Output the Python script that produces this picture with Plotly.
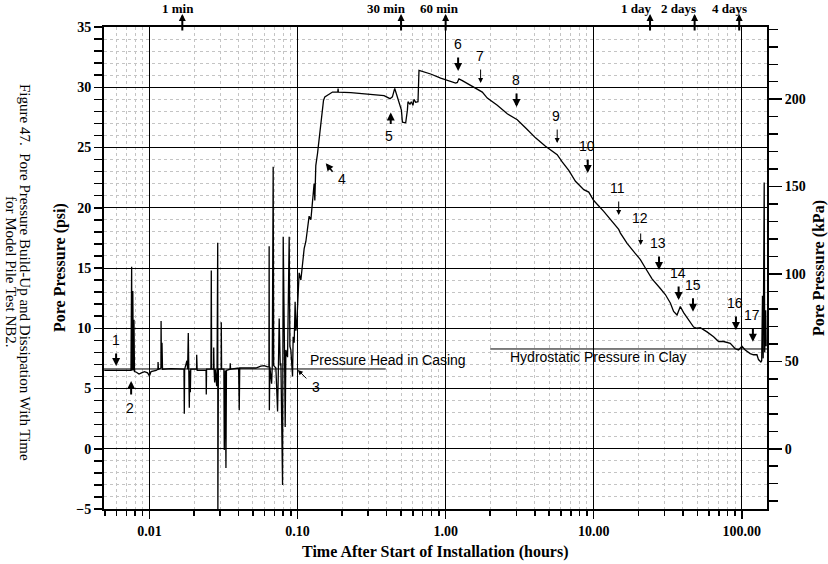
import math
import plotly.graph_objects as go

# ---------------- data (time in hours, pressure in psi) ----------------
time_h = [
    0.00495, 0.0060, 0.0070, 0.00750, 0.00758, 0.00762, 0.00772, 0.00778, 0.00786, 0.00792,
    0.00817, 0.00850, 0.00883, 0.00926, 0.00971, 0.01000, 0.01025, 0.0111, 0.01140, 0.01143,
    0.01150, 0.01195, 0.01198, 0.01205, 0.01215, 0.01225, 0.0140, 0.0163, 0.0171, 0.01719,
    0.01728, 0.0179, 0.0181, 0.01829, 0.01840, 0.01858, 0.01870, 0.01888, 0.01900, 0.0208,
    0.02084, 0.0210, 0.0223, 0.0241, 0.02419, 0.0243, 0.0260, 0.02615, 0.0263, 0.0271,
    0.02716, 0.02730, 0.02756, 0.0278, 0.02844, 0.0286, 0.0289, 0.02897, 0.0292, 0.0305,
    0.03054, 0.0307, 0.0318, 0.0320, 0.0325, 0.03284, 0.0331, 0.0350, 0.03512, 0.0353,
    0.0400, 0.04038, 0.0407, 0.0448, 0.0523, 0.0565, 0.0595, 0.0628, 0.0641, 0.0643,
    0.0645, 0.0650, 0.0668, 0.0675, 0.06846, 0.0690, 0.0714, 0.0733, 0.0743, 0.07516,
    0.0764, 0.0772, 0.0792, 0.0800, 0.0818, 0.0825, 0.0834, 0.0856, 0.0878, 0.0888,
    0.0901, 0.0925, 0.0934, 0.0949, 0.0963, 0.0974, 0.0989, 0.1025, 0.1053, 0.1108,
    0.1138, 0.1197, 0.1230, 0.1294, 0.1308, 0.1328, 0.1364, 0.1398, 0.1451, 0.1497,
    0.1528, 0.1633, 0.1722, 0.1870, 0.1878, 0.1886, 0.2288, 0.2965, 0.3837, 0.421,
    0.437, 0.453, 0.4724, 0.4843, 0.5027, 0.5105, 0.5373, 0.5517, 0.5568, 0.5744,
    0.5870, 0.6016, 0.6110, 0.6277, 0.6505, 0.6607, 0.7075, 0.7922, 0.9254, 1.0,
    1.081, 1.168, 1.199, 1.229, 1.296, 1.400, 1.514, 1.636, 1.768, 1.911,
    2.232, 2.607, 3.045, 3.556, 4.045, 4.724, 5.243, 5.665, 6.122, 6.783,
    7.525, 8.563, 9.254, 10.0, 11.68, 13.64, 14.74, 15.14, 16.80, 19.11,
    20.65, 22.32, 24.76, 28.17, 30.44, 32.90, 34.63, 36.51, 38.42, 40.45,
    43.72, 47.25, 49.82, 52.43, 58.18, 64.46, 69.66, 75.27, 83.53, 90.28,
    94.99, 100.2, 105.4, 113.9, 119.9, 126.5, 129.6, 134.5, 136.2, 137.9,
    139.4, 141.6, 142.7, 144.9, 146.0,
]
pressure_psi = [
    6.5, 6.5, 6.5, 6.5, 15.1, 6.5, 13.1, 6.5, 10.7, 6.4,
    6.35, 6.2, 6.3, 6.4, 6.3, 6.05, 6.4, 6.5, 6.6, 7.2,
    6.6, 6.7, 10.6, 6.7, 8.8, 6.6, 6.65, 6.6, 6.6, 2.9,
    6.6, 7.3, 6.6, 9.6, 6.5, 3.4, 6.5, 4.7, 6.6, 6.6,
    7.8, 6.5, 6.5, 6.5, 4.5, 6.6, 6.6, 14.8, 6.6, 6.6,
    8.4, 6.6, 5.5, 6.6, 5.2, 6.6, 17.1, -5.5, 6.6, 6.6,
    10.5, 6.6, 6.6, -0.1, 6.5, -1.6, 6.5, 6.6, 7.1, 6.6,
    6.7, 3.2, 6.7, 6.7, 6.7, 6.85, 6.9, 6.8, 6.8, 16.8,
    3.2, 6.8, 5.4, 6.9, 23.4, 6.9, 6.7, 3.1, 7.0, 10.8,
    6.9, 7.1, -3.0, 17.6, 7.2, 1.8, 8.2, 7.6, 17.6, 8.5,
    8.2, 6.0, 9.3, 8.8, 12.2, 9.8, 10.5, 14.6, 14.0, 16.6,
    17.2, 19.3, 19.0, 22.0, 20.6, 23.5, 24.5, 25.6, 27.6, 28.9,
    29.2, 29.4, 29.6, 29.6, 29.9, 29.6, 29.55, 29.4, 29.3, 29.05,
    29.2, 29.9, 29.2, 28.8, 28.1, 27.1, 27.05, 28.1, 28.8, 28.6,
    28.8, 28.5, 29.0, 28.75, 28.8, 31.4, 31.3, 31.1, 30.75, 30.6,
    30.45, 30.35, 30.4, 30.7, 30.55, 30.3, 30.05, 29.8, 29.6, 29.1,
    28.5, 27.8, 27.3, 26.5, 25.8, 25.1, 24.7, 24.4, 23.8, 23.1,
    22.2, 21.5, 21.3, 20.6, 19.7, 18.75, 18.2, 17.9, 17.05, 16.2,
    15.7, 15.0, 14.1, 13.3, 12.8, 12.1, 11.4, 11.1, 11.8, 11.3,
    10.7, 10.1, 10.0, 10.05, 9.7, 9.3, 8.9, 8.9, 8.75, 8.3,
    8.2, 8.5, 8.2, 7.9, 7.8, 7.8, 7.4, 7.2, 7.3, 12.7,
    7.5, 22.1, 8.0, 11.5, 8.5,
]

# reference levels (psi) and their time spans (hours)
casing_head_psi = 6.62
casing_span_h = [0.00493, 0.394]
hydrostatic_psi = 8.28
hydro_span_h = [2.0, 148.0]

# event markers 1..17: arrow head (time h, psi), label (time h, psi)
event_labels = [str(i) for i in range(1, 18)]
event_head_t = [0.005953, 0.00752, 0.1005, 0.1551, 0.4257, 1.214, 1.722, 3.011, 5.665,
                9.11, 14.74, 20.75, 27.6, 37.43, 46.8, 91.25, 118.8]
event_head_p = [6.87, 5.62, 6.54, 23.7, 27.9, 31.35, 30.35, 28.36, 25.37,
                22.88, 19.40, 16.91, 14.83, 12.34, 11.37, 9.85, 8.88]
event_text_t = [0.005953, 0.0074, 0.1328, 0.1989, 0.4127, 1.205, 1.695, 2.965, 5.604,
                9.07, 14.45, 20.65, 27.31, 37.25, 47.0, 90.3, 117.5]
event_text_p = [9.02, 3.38, 5.12, 22.39, 25.95, 33.59, 32.59, 30.60, 27.61,
                25.12, 21.64, 19.15, 17.07, 14.59, 13.59, 12.10, 11.10]

# top time markers
top_marker_t = [1 / 60, 0.5, 1.0, 24.0, 48.0, 96.0]
top_marker_text = ["1 min", "30 min", "60 min", "1 day", "2 days", "4 days"]

x_tick_vals = [0.01, 0.1, 1, 10, 100]
x_tick_text = ["0.01", "0.10", "1.00", "10.00", "100.00"]

caption_lines = ["Figure 47.  Pore Pressure Build-Up and Dissipation With Time",
                 "for Model Pile Test NB2."]

PSI_TO_KPA = 6.89476

# ---------------- styling helpers ----------------
SERIF = "Liberation Serif"
SANS = "Liberation Sans"
W, H = 828, 564
PX_L, PX_R, PX_T, PX_B = 104, 767, 27, 509   # plot area in pixels
PW, PH = PX_R - PX_L, PX_B - PX_T


def px(xs):
    return (xs - PX_L) / PW


def py(ys):
    return (PX_B - ys) / PH


ev_ax = [0, 0, 10, 8, 0, 0, 0, 0, 0, 0, 0, 0, 0, 0, 0, 0, 0]
ev_ay = [-14, 15, 10, 10, 13, -15, -15, -15, -15, -15, -15, -13, -15, -15, -15, -15, -15]
ev_w = [2, 2, 1, 1.5, 2, 2, 1, 2, 1, 2, 1, 1, 2, 2, 2, 2, 2]
top_label_shift = [-4, -15, -6, -14, -16, -10]

minor_x = [k * 10 ** d for d in range(-3, 3) for k in range(2, 10)
           if 0.00493 <= k * 10 ** d <= 148]

fig = go.Figure()

fig.add_trace(go.Scatter(x=casing_span_h, y=[casing_head_psi] * 2, mode="lines",
                         line=dict(color="black", width=1), hoverinfo="skip"))
fig.add_trace(go.Scatter(x=hydro_span_h, y=[hydrostatic_psi] * 2, mode="lines",
                         line=dict(color="black", width=1), hoverinfo="skip"))
fig.add_trace(go.Scatter(x=time_h, y=pressure_psi, mode="lines",
                         line=dict(color="black", width=1.3), hoverinfo="skip"))
# invisible trace to activate kPa axis
fig.add_trace(go.Scatter(x=[1], y=[0], yaxis="y2", mode="markers",
                         marker=dict(opacity=0), hoverinfo="skip"))

C = dict(xanchor="center", yanchor="middle")
ann = []
for i in range(len(event_labels)):
    ann.append(dict(x=math.log10(event_head_t[i]), y=event_head_p[i], xref="x", yref="y",
                    text="", showarrow=True, ax=ev_ax[i], ay=ev_ay[i], arrowhead=2,
                    arrowsize=0.8 if ev_w[i] >= 2 else 1.0, arrowwidth=ev_w[i],
                    arrowcolor="black", standoff=0))
    ann.append(dict(x=math.log10(event_text_t[i]), y=event_text_p[i], xref="x", yref="y",
                    text=event_labels[i], showarrow=False, **C,
                    font=dict(family=SANS, size=14, color="black")))

for i, t in enumerate(top_marker_t):
    ann.append(dict(x=math.log10(t), y=py(14), xref="x", yref="paper",
                    text="", showarrow=True, ax=0, ay=18, arrowhead=2, arrowsize=0.7,
                    arrowwidth=2, arrowcolor="black", standoff=0))
    ann.append(dict(x=math.log10(t), y=py(9), xref="x", yref="paper", **C,
                    xshift=top_label_shift[i], text=top_marker_text[i], showarrow=False,
                    font=dict(family=SERIF, size=13, color="black", weight="bold")))

ann.append(dict(x=math.log10(0.1173), y=7.37, xref="x", yref="y", xanchor="left",
                yanchor="middle", text="Pressure Head in Casing", showarrow=False,
                font=dict(family=SANS, size=14, color="black")))
ann.append(dict(x=math.log10(2.619), y=7.61, xref="x", yref="y", xanchor="left",
                yanchor="middle", text="Hydrostatic Pressure in Clay", showarrow=False,
                font=dict(family=SANS, size=14, color="black")))

# axis titles and caption
ann.append(dict(x=px(60), y=0.5, xref="paper", yref="paper", textangle=-90, **C,
                text="Pore Pressure (psi)", showarrow=False,
                font=dict(family=SERIF, size=16, color="black", weight="bold")))
ann.append(dict(x=px(819), y=0.5, xref="paper", yref="paper", textangle=-90, **C,
                text="Pore Pressure (kPa)", showarrow=False,
                font=dict(family=SERIF, size=16, color="black", weight="bold")))
ann.append(dict(x=0.5, y=py(552), xref="paper", yref="paper", **C,
                text="Time After Start of Installation (hours)", showarrow=False,
                font=dict(family=SERIF, size=16, color="black", weight="bold")))
for line_text, cx in zip(caption_lines, [25, 11]):
    ann.append(dict(x=px(cx), y=py(272), xref="paper", yref="paper", textangle=90, **C,
                    text=line_text, showarrow=False,
                    font=dict(family=SERIF, size=15, color="black")))

grid_minor = dict(showgrid=True, gridcolor="#c4c4c4", griddash="3px,3px", gridwidth=1)
tick_font = dict(family=SERIF, size=14, color="black", weight="bold")

fig.update_layout(
    width=W, height=H,
    margin=dict(l=PX_L, r=W - PX_R, t=PX_T, b=H - PX_B),
    paper_bgcolor="white", plot_bgcolor="white",
    showlegend=False, hovermode=False,
    annotations=ann,
    xaxis=dict(
        type="log", range=[-2.307, 2.170],
        tickvals=x_tick_vals, ticktext=x_tick_text,
        ticks="outside", ticklen=8, tickwidth=1.5, tickcolor="black",
        showgrid=True, gridcolor="black", gridwidth=1, zeroline=False,
        showline=True, linewidth=2, linecolor="black", mirror=True,
        tickfont=tick_font,
        minor=dict(tickvals=minor_x, ticks="outside", ticklen=5, tickwidth=1.5,
                   tickcolor="black", **grid_minor),
    ),
    yaxis=dict(
        range=[-5, 35], tick0=0, dtick=5,
        ticks="outside", ticklen=8, tickwidth=1.5, tickcolor="black",
        showgrid=True, gridcolor="black", gridwidth=1, zeroline=False,
        showline=True, linewidth=2, linecolor="black", mirror=True,
        tickfont=tick_font,
        minor=dict(dtick=1, ticks="outside", ticklen=8, tickwidth=1.5,
                   tickcolor="black", **grid_minor),
    ),
    yaxis2=dict(
        overlaying="y", side="right",
        range=[-5 * PSI_TO_KPA, 35 * PSI_TO_KPA], tick0=0, dtick=50,
        ticks="outside", ticklen=13, tickwidth=1.5, tickcolor="black",
        showgrid=False, zeroline=False,
        showline=True, linewidth=2, linecolor="black",
        tickfont=tick_font,
        minor=dict(dtick=10, ticks="outside", ticklen=9, tickwidth=1.5, tickcolor="black"),
    ),
)

fig.write_html("out.html",
               config={"displayModeBar": False, "staticPlot": True},
               post_script="document.body.style.margin='0';document.body.style.overflow='hidden';")
